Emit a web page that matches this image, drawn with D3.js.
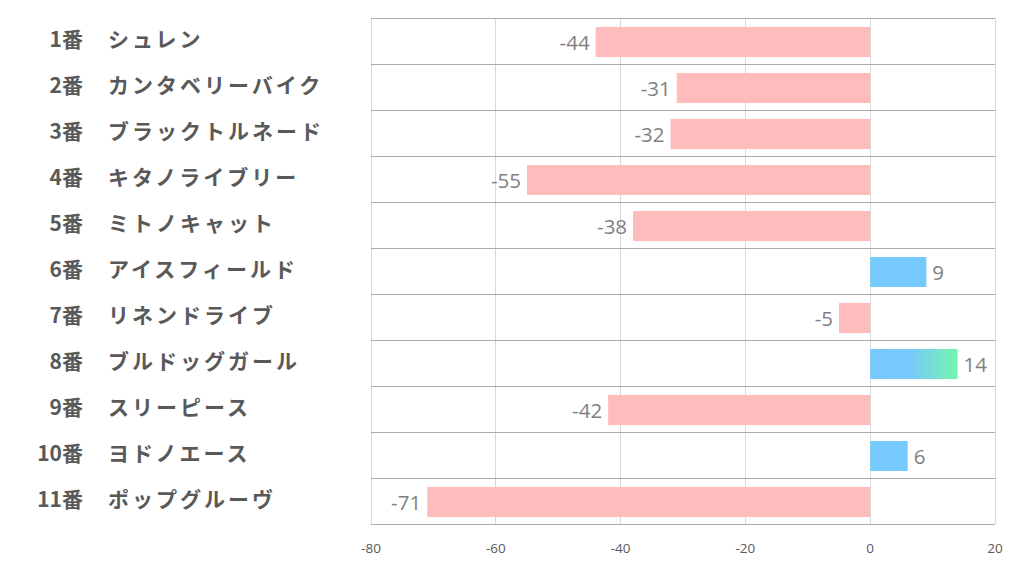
<!DOCTYPE html>
<html><head><meta charset="utf-8">
<script src="https://cdn.jsdelivr.net/npm/d3@7"></script>
<style>body{margin:0;background:#fff;} svg{display:block;}</style>
</head><body>
<svg id="chart" width="1022" height="574"></svg>
<script>
const numbers = ["1番","2番","3番","4番","5番","6番","7番","8番","9番","10番","11番"];
const names = ["シュレン","カンタベリーバイク","ブラックトルネード","キタノライブリー","ミトノキャット","アイスフィールド","リネンドライブ","ブルドッグガール","スリーピース","ヨドノエース","ポップグルーヴ"];
const values = [-44,-31,-32,-55,-38,9,-5,14,-42,6,-71];
const gradientIdx = [7];
const ticks = [-80,-60,-40,-20,0,20];

(function(){
const svg = d3.select("#chart");
const pL = 371, pR = 995, pT = 18, pB = 524;
const x = d3.scaleLinear().domain([-80,20]).range([pL,pR]);
const y = d3.scaleBand().domain(d3.range(values.length)).range([pT,pB]).paddingInner(0).paddingOuter(0);
const bh = 30;

const defs = svg.append("defs");
const lg = defs.append("linearGradient").attr("id","grad").attr("x1","0%").attr("x2","100%");
lg.append("stop").attr("offset","0%").attr("stop-color","#75c9fc");
lg.append("stop").attr("offset","45%").attr("stop-color","#79c8fb");
lg.append("stop").attr("offset","100%").attr("stop-color","#72f6b0");

svg.append("g").selectAll("line").data(ticks).join("line")
  .attr("x1",d=>x(d)).attr("x2",d=>x(d)).attr("y1",pT).attr("y2",pB)
  .attr("stroke","#d9d9d9").attr("stroke-width",1).attr("shape-rendering","crispEdges");

svg.append("g").selectAll("line").data(d3.range(values.length+1)).join("line")
  .attr("x1",pL).attr("x2",pR)
  .attr("y1",i=>pT + i*y.bandwidth()).attr("y2",i=>pT + i*y.bandwidth())
  .attr("stroke","#ababab").attr("stroke-width",1).attr("shape-rendering","crispEdges");

svg.append("g").selectAll("rect").data(values).join("rect")
  .attr("x",d=>x(Math.min(0,d))).attr("width",d=>Math.abs(x(d)-x(0)))
  .attr("y",(d,i)=>y(i)+ (y.bandwidth()-bh)/2 + 1).attr("height",bh)
  .attr("fill",(d,i)=> gradientIdx.includes(i) ? "url(#grad)" : (d<0 ? "#ffbcbc" : "#75c9fc"));

svg.append("g").selectAll("text").data(values).join("text")
  .attr("x",d=> d<0 ? x(d)-6 : x(d)+6)
  .attr("y",(d,i)=>y(i)+y.bandwidth()/2+2)
  .attr("dy","0.35em")
  .attr("text-anchor",d=> d<0 ? "end" : "start")
  .attr("font-family","'Open Sans','Noto Sans',sans-serif")
  .attr("font-size",20.5).attr("fill","#7f7f7f")
  .text(d=>d);

svg.append("g").selectAll("text").data(ticks).join("text")
  .attr("x",d=>x(d)).attr("y",548)
  .attr("dy","0.35em").attr("text-anchor","middle")
  .attr("font-family","'Open Sans','Noto Sans',sans-serif")
  .attr("font-size",13.5).attr("fill","#595959")
  .text(d=>d);

const lab = svg.append("g");
lab.selectAll("text.num").data(numbers).join("text").attr("class","num")
  .attr("x",83).attr("y",(d,i)=>y(i)+y.bandwidth()/2-1).attr("dy","0.35em")
  .attr("text-anchor","end")
  .attr("font-family","'Noto Sans CJK JP',sans-serif").attr("font-weight","bold")
  .attr("font-size",21).attr("fill","#595959").text(d=>d);
lab.selectAll("text.name").data(names).join("text").attr("class","name")
  .attr("x",108).attr("y",(d,i)=>y(i)+y.bandwidth()/2-1).attr("dy","0.35em")
  .attr("text-anchor","start")
  .attr("font-family","'Noto Sans CJK JP',sans-serif").attr("font-weight","bold")
  .attr("font-size",21).attr("letter-spacing","3").attr("fill","#595959").text(d=>d);
})();
</script>
</body></html>
